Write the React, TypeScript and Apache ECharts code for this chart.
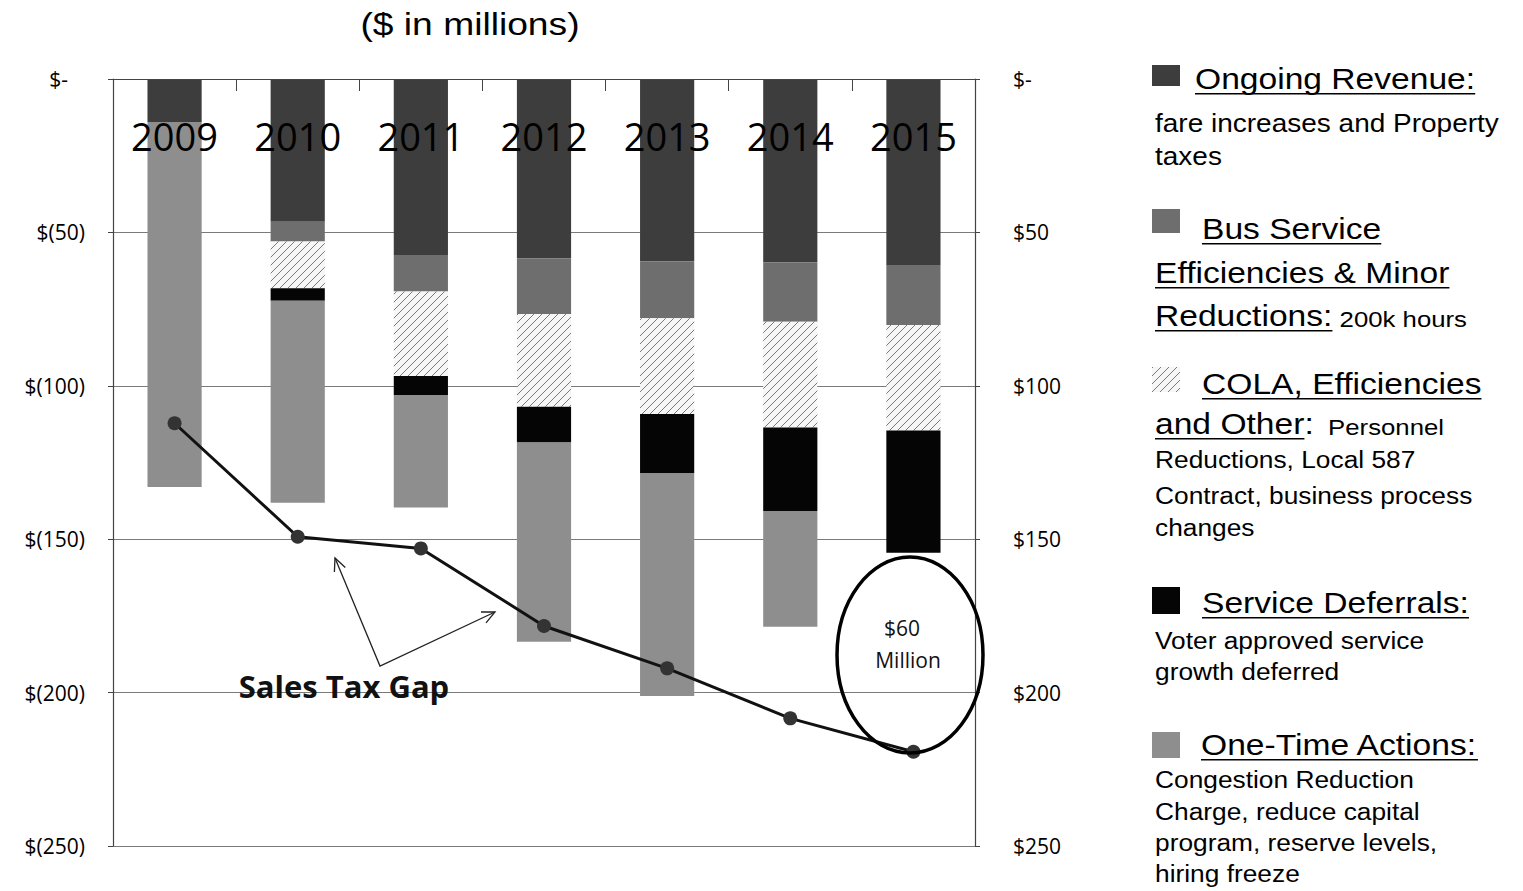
import React, { useEffect, useRef } from 'react';
import * as echarts from 'echarts';

// ---- data (values in $ millions, shown as reductions below zero) ----
const years = ['2009', '2010', '2011', '2012', '2013', '2014', '2015'];
const ongoingRevenue = [14, 46.5, 57.4, 58.5, 59.5, 59.8, 60.6];
const busService = [0, 6.5, 11.9, 18.1, 18.5, 19.3, 19.6];
const colaOther = [0, 15.2, 27.5, 30.2, 31.2, 34.5, 34.4];
const serviceDeferrals = [0, 4.1, 6.2, 11.7, 19.2, 27.2, 39.8];
const oneTimeActions = [119, 65.8, 36.7, 64.9, 72.7, 37.7, 0];
const salesTaxGap = [112.2, 149.2, 153, 178.3, 192.1, 208.4, 219.3];
const axisMin = 0;
const axisMax = 250;
const axisStep = 50;

const seriesNames = [
  'Ongoing Revenue',
  'Bus Service Efficiencies & Minor Reductions',
  'COLA, Efficiencies and Other',
  'Service Deferrals',
  'One-Time Actions',
  'Sales Tax Gap',
];

const LEG_FONT = '"Liberation Sans", Arial, Helvetica, sans-serif';
const CAL_FONT = '"Open Sans", "Noto Sans", sans-serif';

export default function App() {
  const ref = useRef<HTMLDivElement>(null);

  useEffect(() => {
    document.body.style.margin = '0';
    const chart = echarts.init(ref.current!, null, { renderer: 'svg' });

    // hatch pattern for COLA series
    const pc = document.createElement('canvas');
    pc.width = 8;
    pc.height = 8;
    const g = pc.getContext('2d')!;
    g.fillStyle = '#f6f6f6';
    g.fillRect(0, 0, 8, 8);
    g.strokeStyle = '#7a7a7a';
    g.lineWidth = 1;
    g.beginPath();
    g.moveTo(0, 8);
    g.lineTo(8, 0);
    g.moveTo(-1, 1);
    g.lineTo(1, -1);
    g.moveTo(7, 9);
    g.lineTo(9, 7);
    g.stroke();
    const hatch: any = { image: pc, repeat: 'repeat' };

    const colors = ['#3d3d3d', '#6e6e6e', hatch, '#050505', '#8e8e8e'];

    // text measuring for legend underlines
    const mctx = document.createElement('canvas').getContext('2d')!;
    const SX = 1.12;
    const measure = (t: string, s: number) => {
      mctx.font = `${s}px ${LEG_FONT}`;
      return mctx.measureText(t).width * SX;
    };

    const graphics: any[] = [];
    const addText = (t: string, x: number, yc: number, s: number, underline = false) => {
      graphics.push({
        type: 'text',
        x,
        y: yc,
        scaleX: SX,
        z: 100,
        style: {
          text: t,
          font: `${s}px ${LEG_FONT}`,
          fill: '#000',
          align: 'left',
          verticalAlign: 'middle',
        },
      });
      const w = measure(t, s);
      if (underline) {
        const uy = yc + 0.36 * s + 4;
        graphics.push({
          type: 'line',
          z: 100,
          shape: { x1: x, y1: uy, x2: x + w, y2: uy },
          style: { stroke: '#000', lineWidth: 1.5 },
        });
      }
      return x + w;
    };
    const H = 30;
    const B = 23.5;
    const S = 23;
    const baseShift = (big: number, small: number) => 0.36 * big - 0.36 * small;

    // legend swatches
    const swatch = (y1: number, y2: number, fill: any) =>
      graphics.push({
        type: 'rect',
        z: 100,
        shape: { x: 1152, y: y1, width: 28, height: y2 - y1 },
        style: { fill },
      });
    swatch(65, 86, colors[0]);
    swatch(209, 233, colors[1]);
    swatch(367, 392, colors[2]);
    swatch(587, 614, colors[3]);
    swatch(732, 758, colors[4]);

    addText('Ongoing Revenue:', 1195, 79, H, true);
    addText('fare increases and Property', 1155, 124, 25);
    addText('taxes', 1155, 157, 25);

    addText('Bus Service', 1202, 229, H, true);
    addText('Efficiencies & Minor', 1155, 273, H, true);
    let xe = addText('Reductions:', 1155, 316, H, true);
    addText(' 200k hours', xe, 316 + baseShift(H, S), S);

    addText('COLA, Efficiencies', 1202, 384, H, true);
    xe = addText('and Other', 1155, 424, H, true);
    xe = addText(':', xe, 424, H);
    addText('  Personnel', xe, 424 + baseShift(H, S), S);
    addText('Reductions, Local 587', 1155, 460, B);
    addText('Contract, business process', 1155, 496, B);
    addText('changes', 1155, 528, B);

    addText('Service Deferrals:', 1202, 603, H, true);
    addText('Voter approved service', 1155, 641, B);
    addText('growth deferred', 1155, 672, B);

    addText('One-Time Actions:', 1201, 745, H, true);
    addText('Congestion Reduction', 1155, 780, B);
    addText('Charge, reduce capital', 1155, 812, B);
    addText('program, reserve levels,', 1155, 843, B);
    addText('hiring freeze', 1155, 874, B);

    // title
    graphics.push({
      type: 'text',
      x: 470,
      y: 24,
      scaleX: 1.2,
      z: 100,
      style: {
        text: '($ in millions)',
        font: `31px ${LEG_FONT}`,
        fill: '#000',
        align: 'center',
        verticalAlign: 'middle',
      },
    });

    // annotations
    graphics.push(
      {
        type: 'text',
        x: 344,
        y: 686,
        z: 100,
        style: {
          text: 'Sales Tax Gap',
          font: `bold 31px ${CAL_FONT}`,
          fill: '#111',
          align: 'center',
          verticalAlign: 'middle',
        },
      },
      {
        type: 'polyline',
        z: 100,
        shape: { points: [[335, 558], [380, 666], [495, 612]] },
        style: { stroke: '#222', lineWidth: 1.3, fill: null },
      },
      {
        type: 'polyline',
        z: 100,
        shape: { points: [[334.4, 572], [335, 558], [345.3, 567.4]] },
        style: { stroke: '#222', lineWidth: 1.3, fill: null },
      },
      {
        type: 'polyline',
        z: 100,
        shape: { points: [[481, 612], [495, 612], [486, 622.8]] },
        style: { stroke: '#222', lineWidth: 1.3, fill: null },
      },
      {
        type: 'ellipse',
        z: 100,
        shape: { cx: 910, cy: 655, rx: 73, ry: 98 },
        style: { stroke: '#000', lineWidth: 3.5, fill: null },
      },
      {
        type: 'text',
        x: 902,
        y: 628,
        z: 100,
        style: { text: '$60', font: `21px ${CAL_FONT}`, fill: '#111', align: 'center', verticalAlign: 'middle' },
      },
      {
        type: 'text',
        x: 908,
        y: 660,
        z: 100,
        style: { text: 'Million', font: `21px ${CAL_FONT}`, fill: '#111', align: 'center', verticalAlign: 'middle' },
      }
    );

    const barData = [ongoingRevenue, busService, colaOther, serviceDeferrals, oneTimeActions];

    const yAxisBase = {
      type: 'value',
      min: axisMin,
      max: axisMax,
      interval: axisStep,
      inverse: true,
      axisLine: { show: true, lineStyle: { color: '#444', width: 1.2 } },
      axisTick: { show: true, length: 5, lineStyle: { color: '#444' } },
    };

    chart.setOption({
      animation: false,
      grid: { left: 113, right: 548, top: 79, bottom: 45, containLabel: false },
      xAxis: {
        type: 'category',
        data: years,
        position: 'top',
        z: 10,
        axisLine: { show: true, lineStyle: { color: '#444', width: 1.2 } },
        axisTick: { show: true, inside: true, length: 12, lineStyle: { color: '#444' } },
        axisLabel: {
          inside: true,
          margin: 38,
          fontSize: 38,
          fontFamily: CAL_FONT,
          color: '#000',
        },
        splitLine: { show: false },
      },
      yAxis: [
        {
          ...yAxisBase,
          position: 'left',
          axisLabel: {
            margin: 28,
            fontSize: 21,
            fontFamily: CAL_FONT,
            color: '#000',
            formatter: (v: number) => (v === 0 ? '{z|$-}' : `$(${v})`),
            rich: {
              z: { fontSize: 21, fontFamily: CAL_FONT, color: '#000', padding: [0, 17, 0, 0] },
            },
          },
          splitLine: { show: true, lineStyle: { color: '#7a7a7a', width: 1 } },
        },
        {
          ...yAxisBase,
          position: 'right',
          axisLabel: {
            margin: 38,
            fontSize: 21,
            fontFamily: CAL_FONT,
            color: '#000',
            formatter: (v: number) => (v === 0 ? '$-' : `$${v}`),
          },
          splitLine: { show: false },
        },
      ],
      series: [
        ...barData.map((d, i) => ({
          name: seriesNames[i],
          type: 'bar',
          stack: 'budget',
          data: d,
          barWidth: '44%',
          itemStyle: { color: colors[i] },
        })),
        {
          name: seriesNames[5],
          type: 'line',
          data: salesTaxGap,
          z: 5,
          symbol: 'circle',
          symbolSize: 14,
          itemStyle: { color: '#333' },
          lineStyle: { color: '#111', width: 3 },
        },
      ],
      graphic: graphics,
    });

    return () => chart.dispose();
  }, []);

  return (
    <div
      ref={ref}
      style={{ position: 'fixed', left: 0, top: 0, width: 1523, height: 891, background: '#fff' }}
    />
  );
}
